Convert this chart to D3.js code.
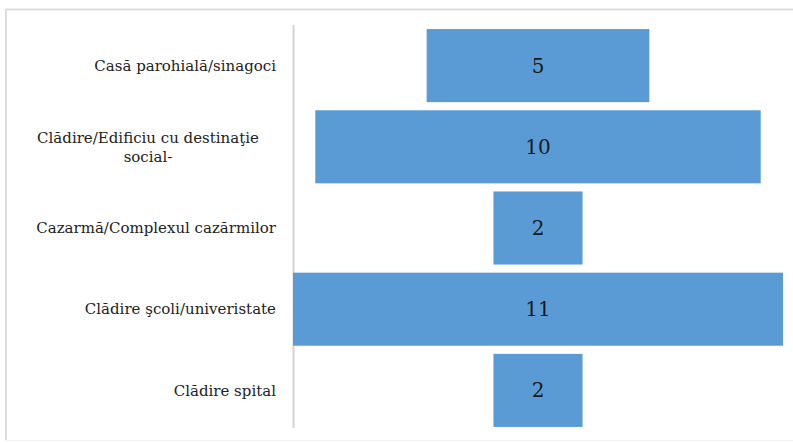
<!DOCTYPE html>
<html>
<head>
<meta charset="utf-8">
<script src="https://cdn.jsdelivr.net/npm/d3@7"></script>
<style>
  html, body { margin: 0; padding: 0; background: #fff; }
  svg { display: block; }
  .serif { font-family: "DejaVu Serif", serif; }
</style>
</head>
<body>
<div id="chart"></div>
<script>
const categories = [
  "Casă parohială/sinagoci",
  "Clădire/Edificiu cu destinaţie\nsocial-",
  "Cazarmă/Complexul cazărmilor",
  "Clădire şcoli/univeristate",
  "Clădire spital"
];
const values = [5, 10, 2, 11, 2];

const W = 793, H = 443;
const svg = d3.select("#chart").append("svg").attr("width", W).attr("height", H);

// frame
svg.append("line").attr("x1", 6).attr("x2", W).attr("y1", 9.5).attr("y2", 9.5)
  .attr("stroke", "#dcdcdc").attr("stroke-width", 2);
svg.append("line").attr("x1", 6).attr("x2", 6).attr("y1", 9).attr("y2", 440)
  .attr("stroke", "#dcdcdc").attr("stroke-width", 2);
svg.append("line").attr("x1", 6).attr("x2", W).attr("y1", 440.5).attr("y2", 440.5)
  .attr("stroke", "#f0f0f0").attr("stroke-width", 1);

const maxV = d3.max(values);
const x = d3.scaleLinear().domain([-maxV / 2, maxV / 2]).range([293, 783]);
const y = d3.scaleBand().domain(categories).range([25, 431]).paddingInner(0.1).paddingOuter(0.05);

// axis line
svg.append("line").attr("x1", 293.5).attr("x2", 293.5).attr("y1", 25).attr("y2", 428)
  .attr("stroke", "#d4d4d4").attr("stroke-width", 2);

const data = categories.map((c, i) => ({ c, v: values[i] }));

svg.selectAll("rect.bar").data(data).enter().append("rect")
  .attr("class", "bar")
  .attr("x", d => x(-d.v / 2))
  .attr("width", d => x(d.v / 2) - x(-d.v / 2))
  .attr("y", d => y(d.c))
  .attr("height", y.bandwidth())
  .attr("fill", "#5b9bd5");

svg.selectAll("text.val").data(data).enter().append("text")
  .attr("class", "val serif")
  .attr("x", x(0))
  .attr("y", d => y(d.c) + y.bandwidth() / 2)
  .attr("dy", "0.35em")
  .attr("text-anchor", "middle")
  .attr("font-size", 20)
  .attr("fill", "#1a1a1a")
  .text(d => d.v);

// category labels
const labelRight = 276, labelAreaLeft = 20;
data.forEach(d => {
  const lines = d.c.split("\n");
  const cy = y(d.c) + y.bandwidth() / 2;
  const t = svg.append("text")
    .attr("class", "serif")
    .attr("font-size", 15)
    .attr("fill", "#222");
  if (lines.length === 1) {
    t.attr("text-anchor", "end").attr("x", labelRight).attr("y", cy).attr("dy", "0.35em").text(lines[0]);
  } else {
    const lh = 19;
    const cx = (labelRight + labelAreaLeft) / 2;
    t.attr("text-anchor", "middle");
    lines.forEach((ln, i) => {
      t.append("tspan").attr("x", cx)
        .attr("y", cy + (i - (lines.length - 1) / 2) * lh)
        .attr("dy", "0.35em").text(ln);
    });
  }
});
</script>
</body>
</html>
